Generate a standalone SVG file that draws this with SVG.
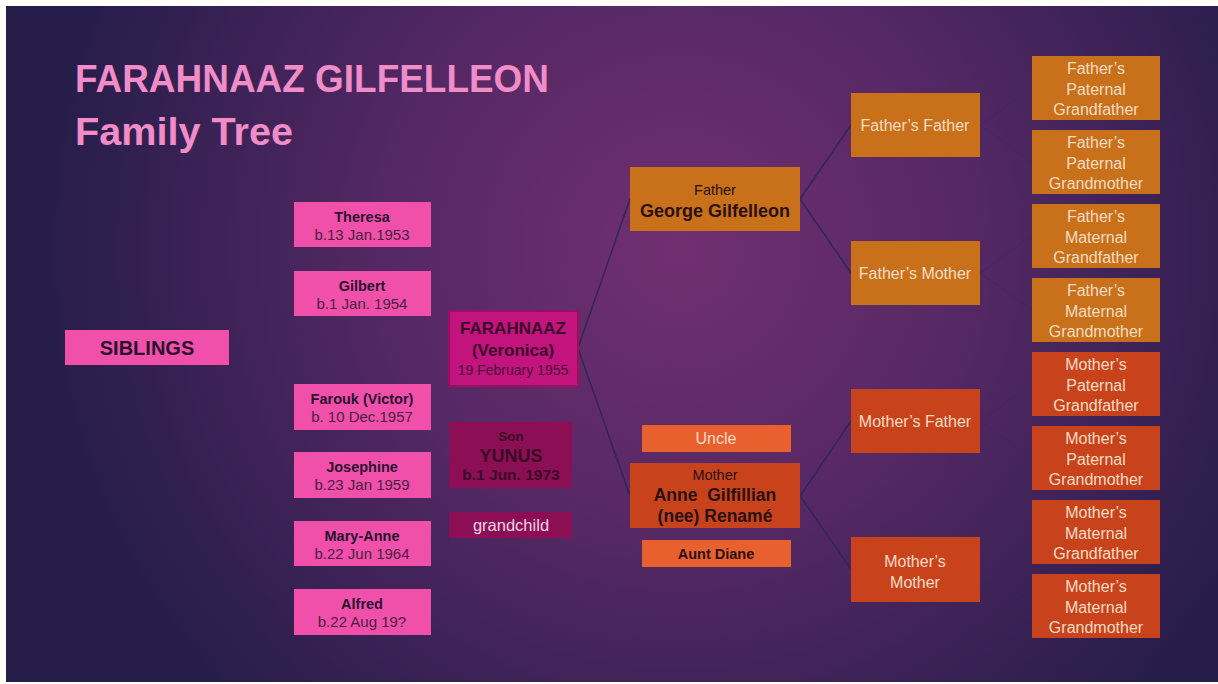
<svg xmlns="http://www.w3.org/2000/svg" width="1218" height="684" viewBox="0 0 1218 684">
<defs>
<radialGradient id="bg" gradientUnits="userSpaceOnUse" cx="680" cy="250" r="640">
<stop offset="0" stop-color="#712f70"/>
<stop offset="0.45" stop-color="#552864"/>
<stop offset="1" stop-color="#261d4a"/>
</radialGradient>
</defs>
<style>
text{font-family:"Liberation Sans",Arial,sans-serif;text-anchor:middle}
.sib{fill:#f050aa}
.fa{fill:#c8701a}
.mo{fill:#c8431c}
.light{fill:#e9602f}
.nm{font-weight:bold;font-size:14.5px;fill:#2a1030}
.dt{font-size:15px;fill:#4a1e40}
.gp{font-size:16px;fill:#f6dcc4}
.dk{fill:#2a1010}
.conn line{stroke:#332657;stroke-width:1.5;fill:none}
.conn .faint{stroke:#3a2a62;stroke-width:1;opacity:0.6}
</style>
<rect x="0" y="0" width="1218" height="684" fill="#ffffff"/>
<rect x="6" y="6" width="1212" height="676" fill="url(#bg)"/>

<g id="title">
<text x="75" y="92" style="text-anchor:start;font-weight:bold;font-size:38px;fill:#f08cc8" textLength="474" lengthAdjust="spacingAndGlyphs">FARAHNAAZ GILFELLEON</text>
<text x="75" y="145" style="text-anchor:start;font-weight:bold;font-size:38px;fill:#f08cc8" textLength="218" lengthAdjust="spacingAndGlyphs">Family Tree</text>
</g>

<g class="conn" id="connectors">
<line x1="578" y1="348" x2="630" y2="199"/>
<line x1="578" y1="348" x2="630" y2="496"/>
<line x1="800" y1="199" x2="851" y2="125"/>
<line x1="800" y1="199" x2="851" y2="273"/>
<line x1="800" y1="496" x2="851" y2="421"/>
<line x1="800" y1="496" x2="851" y2="569"/>
<line class="faint" x1="980" y1="125" x2="1032" y2="88"/>
<line class="faint" x1="980" y1="125" x2="1032" y2="162"/>
<line class="faint" x1="980" y1="273" x2="1032" y2="236"/>
<line class="faint" x1="980" y1="273" x2="1032" y2="310"/>
<line class="faint" x1="980" y1="421" x2="1032" y2="384"/>
<line class="faint" x1="980" y1="421" x2="1032" y2="458"/>
<line class="faint" x1="980" y1="569" x2="1032" y2="532"/>
<line class="faint" x1="980" y1="569" x2="1032" y2="606"/>
</g>

<g id="siblings-label">
<rect class="sib" x="65" y="330" width="164" height="35"/>
<text x="147" y="355" style="font-weight:bold;font-size:20px;fill:#2a1030">SIBLINGS</text>
</g>

<g id="theresa"><rect class="sib" x="294" y="202" width="137" height="45"/>
<text class="nm" x="362" y="222">Theresa</text><text class="dt" x="362" y="240">b.13 Jan.1953</text></g>
<g id="gilbert"><rect class="sib" x="294" y="271" width="137" height="45"/>
<text class="nm" x="362" y="291">Gilbert</text><text class="dt" x="362" y="309">b.1 Jan. 1954</text></g>
<g id="farouk"><rect class="sib" x="294" y="384" width="137" height="46"/>
<text class="nm" x="362" y="404">Farouk (Victor)</text><text class="dt" x="362" y="422">b. 10 Dec.1957</text></g>
<g id="josephine"><rect class="sib" x="294" y="452" width="137" height="46"/>
<text class="nm" x="362" y="472">Josephine</text><text class="dt" x="362" y="490">b.23 Jan 1959</text></g>
<g id="maryanne"><rect class="sib" x="294" y="521" width="137" height="45"/>
<text class="nm" x="362" y="541">Mary-Anne</text><text class="dt" x="362" y="559">b.22 Jun 1964</text></g>
<g id="alfred"><rect class="sib" x="294" y="589" width="137" height="46"/>
<text class="nm" x="362" y="609">Alfred</text><text class="dt" x="362" y="627">b.22 Aug 19?</text></g>

<g id="farahnaaz">
<rect x="449" y="311" width="129" height="75" fill="#c2147c" stroke="#9c0e62" stroke-width="2"/>
<text x="513" y="334" style="font-weight:bold;font-size:17px;fill:#3a0a2a">FARAHNAAZ</text>
<text x="513" y="356" style="font-weight:bold;font-size:17px;fill:#3a0a2a">(Veronica)</text>
<text x="513" y="375" style="font-size:14px;fill:#4a1236">19 February 1955</text>
</g>

<g id="son">
<rect x="449" y="422" width="123" height="66" fill="#8c0f56"/>
<text x="511" y="441" style="font-weight:bold;font-size:13.5px;fill:#3a0a26">Son</text>
<text x="511" y="462" style="font-weight:bold;font-size:18px;fill:#3a0a26">YUNUS</text>
<text x="511" y="480" style="font-weight:bold;font-size:15.5px;fill:#3a0a26">b.1 Jun. 1973</text>
</g>

<g id="grandchild">
<rect x="449" y="512" width="123" height="26" fill="#8c0f56"/>
<text x="511" y="531" style="font-size:16.5px;fill:#f2d2e4">grandchild</text>
</g>

<g id="father">
<rect class="fa" x="630" y="167" width="170" height="64"/>
<text class="dk" x="715" y="195" style="font-size:14.5px">Father</text>
<text class="dk" x="715" y="217" style="font-weight:bold;font-size:18px">George Gilfelleon</text>
</g>

<g id="uncle">
<rect class="light" x="642" y="425" width="149" height="27"/>
<text x="716" y="444" style="font-size:16px;fill:#f6dcc8">Uncle</text>
</g>

<g id="mother">
<rect class="mo" x="630" y="463" width="170" height="65"/>
<text class="dk" x="715" y="480" style="font-size:14.5px">Mother</text>
<text class="dk" x="715" y="501" style="font-weight:bold;font-size:17.5px" xml:space="preserve">Anne  Gilfillian</text>
<text class="dk" x="715" y="522" style="font-weight:bold;font-size:17.5px">(nee) Renamé</text>
</g>

<g id="aunt-diane">
<rect class="light" x="642" y="540" width="149" height="27"/>
<text class="dk" x="716" y="559" style="font-size:14.5px;font-weight:bold">Aunt Diane</text>
</g>

<g id="fathers-father"><rect class="fa" x="851" y="93" width="129" height="64"/>
<text class="gp" x="915" y="131">Father’s Father</text></g>
<g id="fathers-mother"><rect class="fa" x="851" y="241" width="129" height="64"/>
<text class="gp" x="915" y="279">Father’s Mother</text></g>
<g id="mothers-father"><rect class="mo" x="851" y="389" width="129" height="64"/>
<text class="gp" x="915" y="427">Mother’s Father</text></g>
<g id="mothers-mother"><rect class="mo" x="851" y="537" width="129" height="65"/>
<text class="gp" x="915" y="567">Mother’s</text><text class="gp" x="915" y="588">Mother</text></g>

<g id="fpgf"><rect class="fa" x="1032" y="56" width="128" height="64"/>
<text class="gp" x="1096" y="74">Father’s</text><text class="gp" x="1096" y="95">Paternal</text><text class="gp" x="1096" y="115">Grandfather</text></g>
<g id="fpgm"><rect class="fa" x="1032" y="130" width="128" height="64"/>
<text class="gp" x="1096" y="148">Father’s</text><text class="gp" x="1096" y="169">Paternal</text><text class="gp" x="1096" y="189">Grandmother</text></g>
<g id="fmgf"><rect class="fa" x="1032" y="204" width="128" height="64"/>
<text class="gp" x="1096" y="222">Father’s</text><text class="gp" x="1096" y="243">Maternal</text><text class="gp" x="1096" y="263">Grandfather</text></g>
<g id="fmgm"><rect class="fa" x="1032" y="278" width="128" height="64"/>
<text class="gp" x="1096" y="296">Father’s</text><text class="gp" x="1096" y="317">Maternal</text><text class="gp" x="1096" y="337">Grandmother</text></g>
<g id="mpgf"><rect class="mo" x="1032" y="352" width="128" height="64"/>
<text class="gp" x="1096" y="370">Mother’s</text><text class="gp" x="1096" y="391">Paternal</text><text class="gp" x="1096" y="411">Grandfather</text></g>
<g id="mpgm"><rect class="mo" x="1032" y="426" width="128" height="64"/>
<text class="gp" x="1096" y="444">Mother’s</text><text class="gp" x="1096" y="465">Paternal</text><text class="gp" x="1096" y="485">Grandmother</text></g>
<g id="mmgf"><rect class="mo" x="1032" y="500" width="128" height="64"/>
<text class="gp" x="1096" y="518">Mother’s</text><text class="gp" x="1096" y="539">Maternal</text><text class="gp" x="1096" y="559">Grandfather</text></g>
<g id="mmgm"><rect class="mo" x="1032" y="574" width="128" height="64"/>
<text class="gp" x="1096" y="592">Mother’s</text><text class="gp" x="1096" y="613">Maternal</text><text class="gp" x="1096" y="633">Grandmother</text></g>
</svg>
